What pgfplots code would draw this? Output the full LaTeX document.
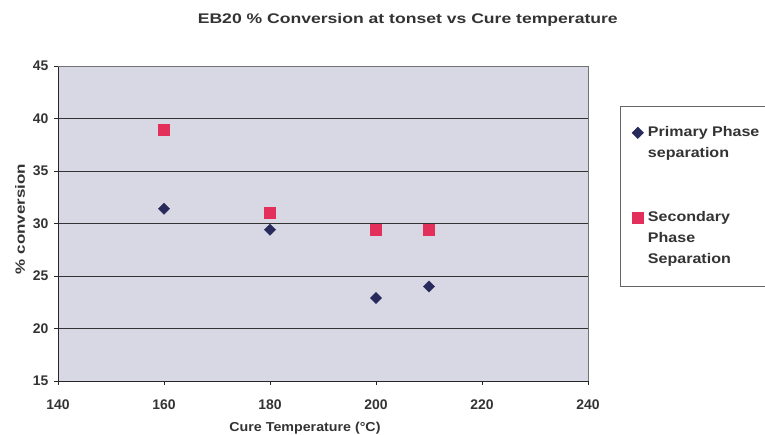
\documentclass[border=0pt]{standalone}
\usepackage{fontspec}
\setmainfont{Liberation Sans}
\newfontfamily\widefont[FakeStretch=1.26]{Liberation Sans}
\newfontfamily\legfont[FakeStretch=1.15]{Liberation Sans}
\newfontfamily\midfont[FakeStretch=1.1]{Liberation Sans}
\usepackage{pgfplots}
\pgfplotsset{compat=1.18}
\definecolor{bg}{RGB}{216,216,228}
\definecolor{navy}{RGB}{40,42,92}
\definecolor{pinkred}{RGB}{226,48,90}
\begin{document}
\begin{tikzpicture}[x=1bp,y=1bp]
\path[use as bounding box] (0,0) rectangle (765,435);
\begin{axis}[
  at={(58bp,54bp)}, anchor=south west,
  scale only axis, width=530bp, height=315bp,
  xmin=140, xmax=240, ymin=15, ymax=45,
  xtick={140,160,...,240}, ytick={15,20,...,45},
  axis lines=left, axis line style={-, black!85, line width=0.9pt},
  ymajorgrids, major grid style={black!80, line width=0.8pt},
  axis background/.style={fill=bg},
  tick align=outside, major tick length=4bp, tick style={black!85, line width=0.8pt},
  /pgf/number format/assume math mode=true,
  tick label style={font=\bfseries\fontsize{14}{14}\selectfont, text=black!80},
  xticklabel style={yshift=-11bp},
  yticklabel style={xshift=-2bp},
  xlabel={Cure Temperature (°C)},
  xlabel style={at={(axis description cs:0.466,0)}, anchor=center, yshift=-47bp, font=\midfont\bfseries\fontsize{13}{14}\selectfont, text=black!80},
  ylabel={\% conversion},
  ylabel style={at={(axis description cs:-0.0717,0.514)}, anchor=center, font=\widefont\bfseries\fontsize{13.5}{14}\selectfont, text=black!80},
  title={EB20 \% Conversion at tonset vs Cure temperature},
  title style={at={(axis description cs:0.66,1)}, anchor=center, yshift=40bp, font=\widefont\bfseries\fontsize{14}{14}\selectfont, text=black!80},
  legend cell align=left,
  legend style={at={(axis description cs:1.0604,0.873)}, anchor=north west,
    draw=black!60, fill=white, line width=0.6pt,
    font=\legfont\bfseries\fontsize{14}{16}\selectfont,
    text=black!80,
    nodes={text height=11bp, text depth=4bp, inner ysep=0bp, inner xsep=1.5bp},
    row sep=6.2bp, inner xsep=9bp, inner ysep=19bp},
  after end axis/.code={\draw[black!55, line width=0.7pt] (rel axis cs:0,1) -- (rel axis cs:1,1) -- (rel axis cs:1,0);},
  clip=false,
]
\addplot[only marks, mark=square*, mark size=4bp, mark options={rotate=45, fill=navy, draw=navy}]
  coordinates {(160,31.4) (180,29.4) (200,22.9) (210,24.0)};
\addlegendentry{\hspace*{3bp}Primary Phase}
\addlegendimage{empty legend}
\addlegendentry{\hspace*{3bp}separation}
\addlegendimage{empty legend}
\addlegendentry{}
\addlegendimage{empty legend}
\addlegendentry{}
\addplot[only marks, mark=square*, mark size=5.5bp, mark options={fill=pinkred, draw=pinkred}]
  coordinates {(160,38.9) (180,31.0) (200,29.4) (210,29.4)};
\addlegendentry{\hspace*{3bp}Secondary}
\addlegendimage{empty legend}
\addlegendentry{\hspace*{3bp}Phase}
\addlegendimage{empty legend}
\addlegendentry{\hspace*{3bp}Separation}
\end{axis}
\end{tikzpicture}
\end{document}
